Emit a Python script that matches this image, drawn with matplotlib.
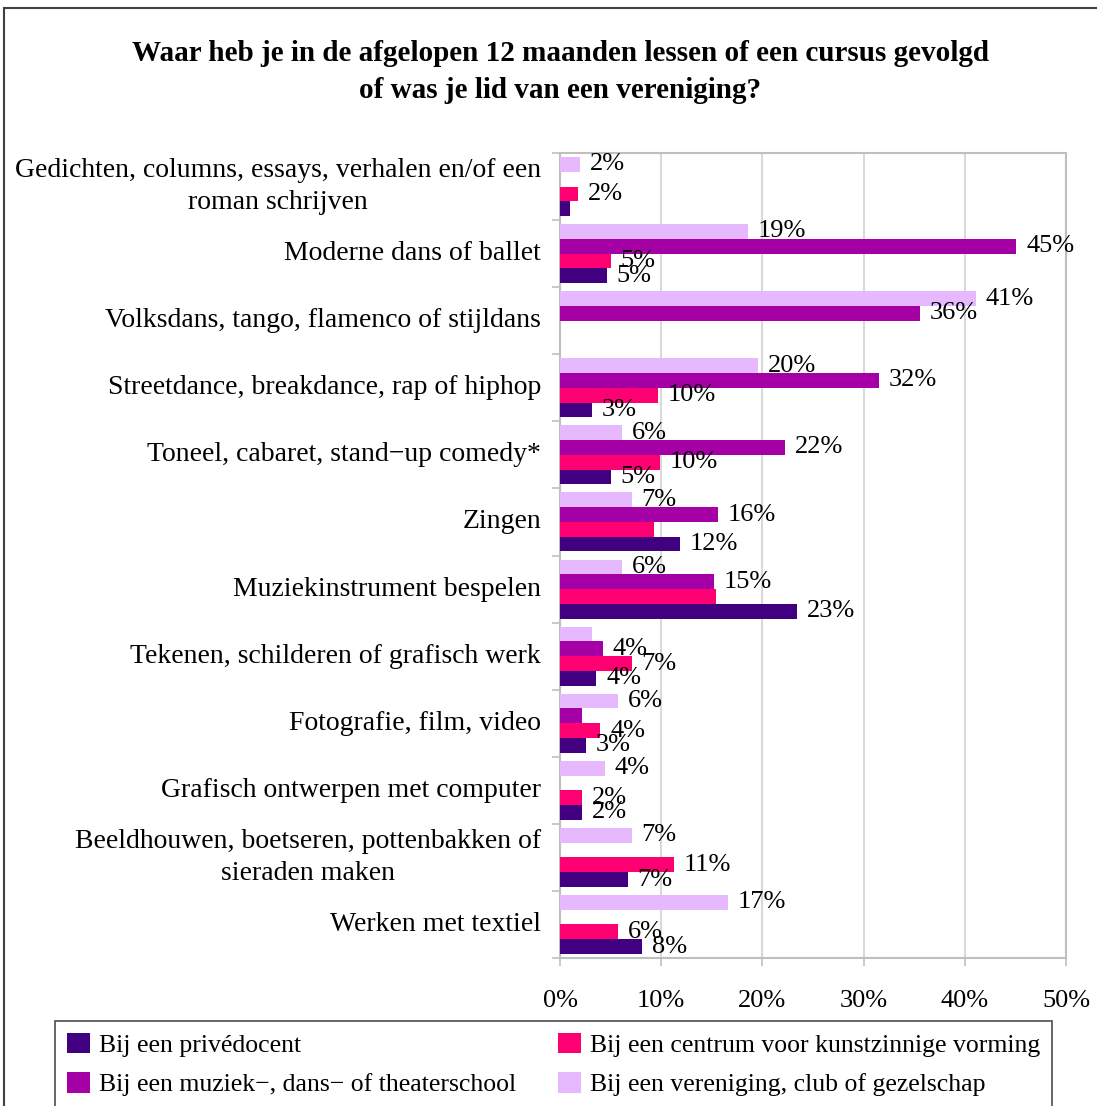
import matplotlib
matplotlib.use("Agg")
import matplotlib.pyplot as plt
import matplotlib.transforms as mtransforms
import numpy as np

plt.rcParams['font.family'] = ['Liberation Serif', 'DejaVu Serif']

categories = [
    "Gedichten, columns, essays, verhalen en/of een\nroman schrijven",
    "Moderne dans of ballet",
    "Volksdans, tango, flamenco of stijldans",
    "Streetdance, breakdance, rap of hiphop",
    "Toneel, cabaret, stand\u2212up comedy*",
    "Zingen",
    "Muziekinstrument bespelen",
    "Tekenen, schilderen of grafisch werk",
    "Fotografie, film, video",
    "Grafisch ontwerpen met computer",
    "Beeldhouwen, boetseren, pottenbakken of\nsieraden maken",
    "Werken met textiel",
]

# percentages per category, top to bottom
prive = [1.0, 4.6, 0, 3.2, 5.0, 11.9, 23.4, 3.6, 2.6, 2.2, 6.7, 8.1]
centrum = [1.8, 5.0, 0, 9.7, 9.9, 9.3, 15.4, 7.1, 4.0, 2.2, 11.3, 5.7]
muziek = [0, 45.1, 35.6, 31.5, 22.2, 15.6, 15.2, 4.2, 2.2, 0, 0, 0]
vereniging = [2.0, 18.6, 41.1, 19.6, 6.1, 7.1, 6.1, 3.2, 5.7, 4.4, 7.1, 16.6]

series_names = [
    "Bij een privédocent",
    "Bij een centrum voor kunstzinnige vorming",
    "Bij een muziek\u2212, dans\u2212 of theaterschool",
    "Bij een vereniging, club of gezelschap",
]
colors = ["#400080", "#FF0073", "#A500A5", "#E6B9FF"]

# bars whose value label is not shown (category indices)
no_label = {0: [0], 1: [5, 6], 2: [8], 3: [7]}

xticks = [0, 10, 20, 30, 40, 50]

W, H = 1097, 1106
fig = plt.figure(figsize=(W / 100, H / 100), dpi=100)
ax = fig.add_axes([560 / W, 1 - 958 / H, 506 / W, 805 / H])

# outer chart frame (right and bottom edges fall outside the image)
fig.add_artist(plt.Rectangle((4 / W, -0.2), 1.5, 1.2 - 8 / H,
                             transform=fig.transFigure, fill=False,
                             ec="#404040", lw=1.5))

h = 0.22
n = len(categories)
centers = np.arange(n) + 0.5
data = [prive, centrum, muziek, vereniging]
# slot 0 = top of group (vereniging) ... slot 3 = bottom (prive)
slots = [3, 2, 1, 0]

for k, vals in enumerate(data):
    y = centers + (slots[k] - 1.5) * h
    bars = ax.barh(y, vals, height=h, color=colors[k], label=series_names[k], zorder=3)
    for i, (b, v) in enumerate(zip(bars, vals)):
        if v == 0 or i in no_label.get(k, []):
            continue
        ax.annotate(f"{round(v):.0f}%", (v, b.get_y() + h / 2), xytext=(7, 0),
                    textcoords="offset points", ha="left", va="center",
                    fontsize=19, zorder=4)

ax.set_xlim(0, 50)
ax.set_ylim(n, 0)
ax.set_xticks(xticks)
ax.set_xticklabels([f"{t}%" for t in xticks], fontsize=19)
ax.set_yticks(np.arange(n + 1))
ax.set_yticklabels([])
ax.tick_params(axis="both", color="#BFBFBF", length=6, width=1.2)
ax.tick_params(axis="x", pad=17)
ax.grid(axis="x", color="#D9D9D9", lw=1.5, zorder=0)
for s in ax.spines.values():
    s.set_color("#BFBFBF")
    s.set_linewidth(1.5)

trans = mtransforms.blended_transform_factory(ax.transAxes, ax.transData)
for c, lab in zip(centers, categories):
    ax.text(-19 / 506, c, lab, transform=trans, ha="right", va="center",
            multialignment="center", fontsize=20, linespacing=1.4)

fig.text(560 / W, 1 - 72 / H,
         "Waar heb je in de afgelopen 12 maanden lessen of een cursus gevolgd\n"
         "of was je lid van een vereniging?",
         ha="center", va="center", fontsize=21, fontweight="bold", linespacing=1.45)

handles, labels = ax.get_legend_handles_labels()
order = [0, 2, 1, 3]
leg = fig.legend([handles[i] for i in order], [labels[i] for i in order],
                 loc="upper left", bbox_to_anchor=(55 / W, 1 - 1021 / H, 997 / W, 0),
                 mode="expand", ncol=2, fontsize=18.5, frameon=True, fancybox=False,
                 edgecolor="#202020", handlelength=0.9, handleheight=0.85,
                 handletextpad=0.35, labelspacing=0.6, borderaxespad=0,
                 borderpad=0.45)
leg.get_frame().set_linewidth(1.2)

fig.savefig("out.png", dpi=100, facecolor="white")
